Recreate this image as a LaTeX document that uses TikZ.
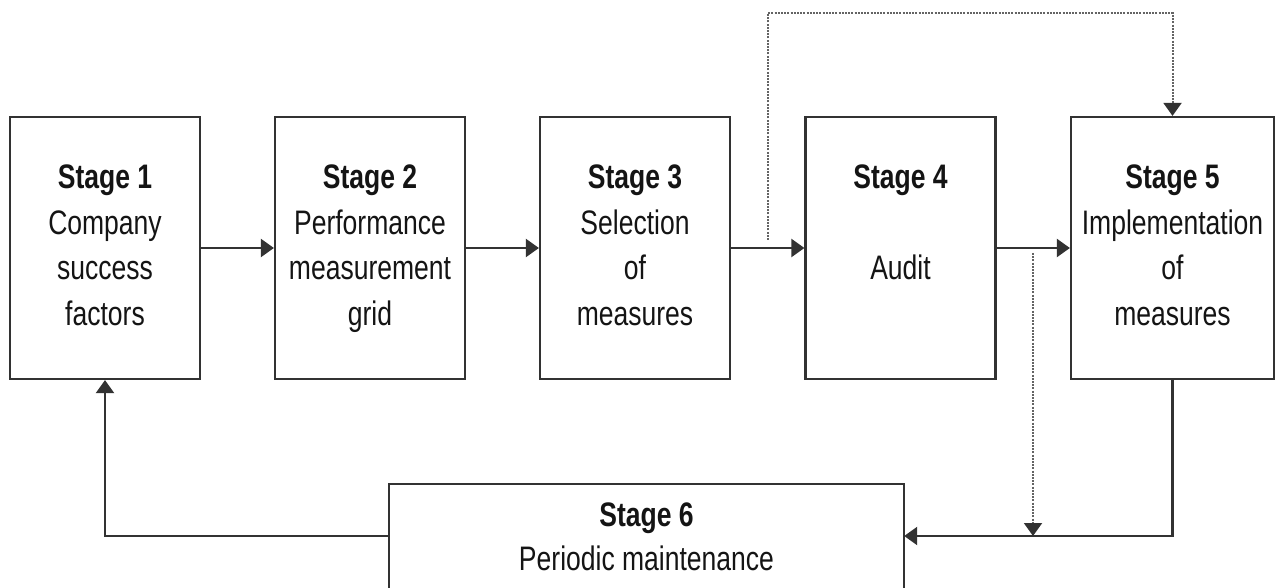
\documentclass[tikz,border=0pt]{standalone}
\usepackage{fontspec}
\setmainfont{Liberation Sans}[FakeStretch=0.78]
\usetikzlibrary{arrows.meta}
\definecolor{ink}{RGB}{50,50,50}
\definecolor{txt}{RGB}{20,20,20}
\definecolor{dots}{RGB}{100,100,100}
% one line of a box label, kept at a fixed height and depth
\newcommand{\lbline}[1]{\strut #1}
\newcommand{\lbhead}[1]{\strut\textbf{#1}}

\begin{document}
\begin{tikzpicture}[x=1pt,y=-1pt,
  stagebox/.style={draw=ink, line width=2.2pt, align=center, inner sep=0pt,
    text=txt, font=\fontsize{34}{45.5}\selectfont,
    minimum width=190pt, minimum height=262pt},
  wide/.style={align=center, inner sep=0pt, text=txt,
    font=\fontsize{34}{44}\selectfont,
    minimum width=515pt, minimum height=104pt},
  flow/.style={draw=ink, line width=2.2pt,
    -{Triangle[length=13pt,width=18pt]}},
  aside/.style={draw=dots, line width=2pt, dash pattern=on 2pt off 1.2pt,
    -{Triangle[length=13pt,width=18pt,color=ink]}}]
\useasboundingbox (0,0) rectangle (1275,588);

% the five stages in a row
\node[stagebox] (s1) at (105,248)
  {\lbhead{Stage 1}\\ \lbline{Company}\\ \lbline{success}\\ \lbline{factors}};
\node[stagebox] (s2) at (370,248)
  {\lbhead{Stage 2}\\ \lbline{Performance}\\ \lbline{measurement}\\ \lbline{grid}};
\node[stagebox] (s3) at (635,248)
  {\lbhead{Stage 3}\\ \lbline{Selection}\\ \lbline{of}\\ \lbline{measures}};
\node[stagebox] (s4) at (900.5,248)
  {\lbhead{Stage 4}\\ \lbline{}\\ \lbline{Audit}\\ \lbline{}};
\node[stagebox, minimum width=203pt] (s5) at (1172.5,248)
  {\lbhead{Stage 5}\\ \lbline{Implementation}\\ \lbline{of}\\ \lbline{measures}};

% the maintenance stage, open at the bottom edge
\node[wide] (s6) at (646.5,536)
  {\rule{0pt}{39pt}\textbf{Stage 6}\\ \lbline{Periodic maintenance}};
\draw[draw=ink, line width=2.2pt]
  (s6.south west) -- (s6.north west) -- (s6.north east) -- (s6.south east);

% main sequence
\draw[flow] (s1) -- (s2);
\draw[flow] (s2) -- (s3);
\draw[flow] (s3) -- (s4);
\draw[flow] (s4) -- (s5);

% feedback loop
\draw[flow] (s5.south) |- (s6.east);
\draw[flow] (s6.west) -| (s1.south);

% optional paths
\coordinate (d1) at (768,240);
\coordinate (d2) at (1033,253);
\coordinate (top) at (768,13);
\draw[aside] (d1) -- (top) -| (s5.north);
\draw[aside] (d2) -- (d2 |- s6.east);
\end{tikzpicture}
\end{document}
